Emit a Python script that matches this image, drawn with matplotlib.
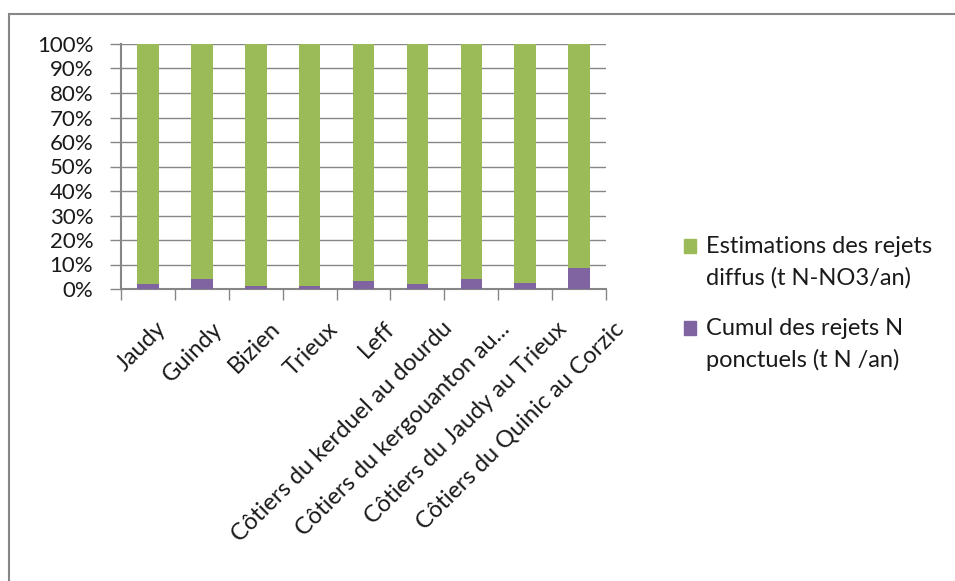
import matplotlib
matplotlib.use("Agg")
import matplotlib.pyplot as plt
import matplotlib.transforms as mtransforms
from matplotlib.patches import Rectangle

categories = [
    "Jaudy", "Guindy", "Bizien", "Trieux", "Leff",
    "Côtiers du kerduel au dourdu",
    "Côtiers du kergouanton au...",
    "Côtiers du Jaudy au Trieux",
    "Côtiers du Quinic au Corzic",
]
# Share of point-source discharges (%) ; diffuse share is the remainder
ponctuel_pct = [2.2, 4.2, 1.3, 1.3, 3.3, 2.2, 4.2, 2.5, 8.7]
diffus_pct = [100 - v for v in ponctuel_pct]
yticks = list(range(0, 101, 10))
ytick_labels = [f"{t}%" for t in yticks]
legend_lines = [
    ["Estimations des rejets", "diffus (t N-NO3/an)"],
    ["Cumul des rejets N", "ponctuels (t N /an)"],
]

GREEN = "#9BBB59"
PURPLE = "#8064A2"
GRID = "#868686"
TEXT = "#1a1a1a"

plt.rcParams["font.family"] = ["Lato", "DejaVu Sans"]

W, H = 955, 581
fig = plt.figure(figsize=(W / 100, H / 100), dpi=100)

# outer chart frame (runs past the right/bottom edges)
fig.patches.append(Rectangle((9 / W, -0.1), 1.2, (H - 14) / H + 0.1,
                             transform=fig.transFigure, fill=False,
                             edgecolor=GRID, linewidth=1.5))

ax = fig.add_axes([121 / W, (H - 289) / H, (606 - 121) / W, (289 - 44) / H])
x = list(range(len(categories)))
ax.bar(x, ponctuel_pct, width=0.4, color=PURPLE, zorder=3)
ax.bar(x, diffus_pct, width=0.4, bottom=ponctuel_pct, color=GREEN, zorder=3)

ax.set_xlim(-0.5, len(categories) - 0.5)
ax.set_ylim(0, 100)
ax.set_yticks(yticks)
ax.set_yticklabels(ytick_labels, fontsize=16, color=TEXT)
ax.yaxis.grid(True, color=GRID, linewidth=1, zorder=0)
ax.tick_params(axis="y", length=8, color=GRID, width=1, pad=12)

# category boundaries carry the x tick marks
ax.set_xticks([i + 0.5 for i in range(-1, len(categories))])
ax.set_xticklabels([])
ax.tick_params(axis="x", length=8, color=GRID, width=1)

# rotated category labels hanging below the axis
base = mtransforms.blended_transform_factory(ax.transData, ax.transAxes)
for i, name in enumerate(categories):
    off = mtransforms.ScaledTranslation((7 + 3.4 * i) / 100, -29 / 100,
                                        fig.dpi_scale_trans)
    ax.text(i, 0, name, transform=base + off, rotation=45, ha="right",
            va="top", rotation_mode="anchor", fontsize=17, color=TEXT)

for side in ("top", "right"):
    ax.spines[side].set_visible(False)
for side in ("left", "bottom"):
    ax.spines[side].set_color(GRID)
    ax.spines[side].set_linewidth(1.5)

# legend: colour square beside a two-line label
px = lambda v: v / W
py = lambda v: 1 - v / H
entry_baselines = [253, 335]
for color, lines, b in zip([GREEN, PURPLE], legend_lines, entry_baselines):
    fig.patches.append(Rectangle((px(684), py(b)), 12 / W, 14 / H,
                                 transform=fig.transFigure, color=color))
    for k, line in enumerate(lines):
        fig.text(px(706), py(b + 32 * k), line, fontsize=17, color=TEXT,
                 ha="left", va="baseline")

fig.savefig("out.png", dpi=100)
